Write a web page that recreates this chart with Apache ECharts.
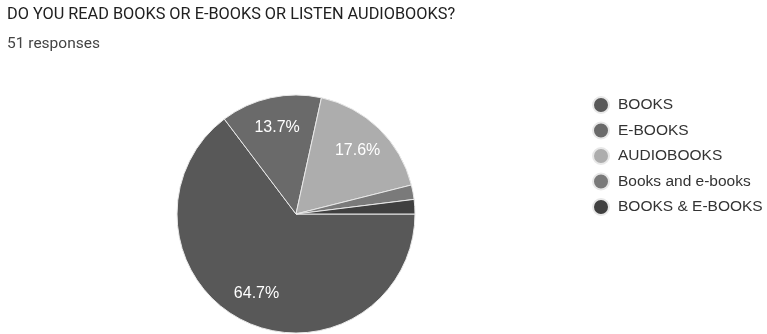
<!DOCTYPE html>
<html>
<head>
<meta charset="utf-8">
<script src="https://cdn.jsdelivr.net/npm/echarts@6/dist/echarts.min.js"></script>
<style>
  html, body { margin: 0; padding: 0; background: #fff; }
  #chart { width: 767px; height: 334px; }
</style>
</head>
<body>
<div id="chart"></div>
<script>
const categories = ['BOOKS', 'E-BOOKS', 'AUDIOBOOKS', 'Books and e-books', 'BOOKS & E-BOOKS']
const counts = [33, 7, 9, 1, 1]
const colors = ['#585858', '#6a6a6a', '#adadad', '#7a7a7a', '#404040']

const chart = echarts.init(document.getElementById('chart'))
const total = counts.reduce((a, b) => a + b, 0)
const pieData = categories.map((c, i) => ({ name: c, value: counts[i] }))

chart.setOption({
  animation: false,
  title: {
    text: 'DO YOU READ BOOKS OR E-BOOKS OR LISTEN AUDIOBOOKS?',
    subtext: '51 responses',
    left: 2, top: 2, itemGap: 13,
    textStyle: { fontFamily: 'Roboto', fontSize: 16.3, fontWeight: 'normal', color: '#202020' },
    subtextStyle: { fontFamily: 'Roboto', fontSize: 15.5, color: '#444' }
  },
  legend: {
    orient: 'vertical', left: 587, top: 91, itemGap: 7.5,
    icon: 'circle', itemWidth: 16, itemHeight: 16,
    textStyle: { fontFamily: 'Liberation Sans', fontSize: 15.5, color: '#333', padding: [0, 0, 0, 4] },
    data: categories
  },
  series: [{
    type: 'pie',
    center: [296, 214],
    radius: 119,
    startAngle: 0,
    clockwise: true,
    color: colors,
    itemStyle: { borderColor: '#e8e8e8', borderWidth: 1 },
    label: { show: false },
    labelLine: { show: false },
    data: pieData
  }, {
    // transparent ring only to push the percent labels outward
    type: 'pie',
    center: [296, 214],
    radius: [52, 119],
    startAngle: 0,
    clockwise: true,
    silent: true,
    itemStyle: { color: 'rgba(0,0,0,0)' },
    label: {
      position: 'inside',
      color: '#fff',
      fontFamily: 'Liberation Sans',
      fontSize: 16,
      formatter: p => p.value / total >= 0.05 ? (p.value / total * 100).toFixed(1) + '%' : ''
    },
    labelLine: { show: false },
    data: pieData
  }]
})
</script>
</body>
</html>
